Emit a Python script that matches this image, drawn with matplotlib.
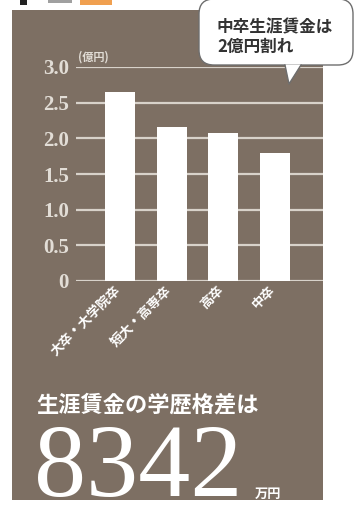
import matplotlib
matplotlib.use("Agg")
import matplotlib.pyplot as plt
from matplotlib.patches import Rectangle, FancyBboxPatch, Polygon
from matplotlib.transforms import blended_transform_factory, offset_copy

categories = ["大卒・大学院卒", "短大・高専卒", "高卒", "中卒"]
values = [2.65, 2.16, 2.07, 1.80]
yticks = [0, 0.5, 1.0, 1.5, 2.0, 2.5, 3.0]
ytick_labels = ["0", "0.5", "1.0", "1.5", "2.0", "2.5", "3.0"]
unit_label = "(億円)"
bubble_lines = ["中卒生涯賃金は", "2億円割れ"]
headline = "生涯賃金の学歴格差は"
big_number = "8342"
big_unit = "万円"

W, H = 357, 507
BG = "#7d6f63"
LIGHT = "#e2ddd6"
CJK = ["Noto Sans CJK JP", "DejaVu Sans"]
SERIF = ["Liberation Serif", "DejaVu Serif"]

fig = plt.figure(figsize=(W / 100, H / 100), dpi=100)
fig.patch.set_facecolor("white")

bg = fig.add_axes([0, 0, 1, 1], zorder=0)
bg.set_xlim(0, W); bg.set_ylim(H, 0); bg.axis("off")
bg.add_patch(Rectangle((12, 10), 311, 490, facecolor=BG, edgecolor="none"))
# header fragments cut off at the top edge
bg.add_patch(Rectangle((20, -4), 7, 9, facecolor="#222222", edgecolor="none"))
bg.add_patch(Rectangle((48, -4), 24, 7, facecolor="#a0a0a0", edgecolor="none"))
bg.add_patch(Rectangle((80, -4), 32, 9, facecolor="#f0a050", edgecolor="none"))

def fx(px): return px / W
def fy(py): return 1 - py / H
left, right, top, bottom = 76, 323, 67, 281
ax = fig.add_axes([fx(left), fy(bottom), fx(right) - fx(left), fy(top) - fy(bottom)], zorder=1)
ax.set_facecolor("none")
x = list(range(len(categories)))
ax.bar(x, values, width=0.58, color="white", zorder=3)
ax.set_xlim(-0.85, 3.93)
ax.set_ylim(0, 3.0)
ax.set_yticks(yticks, ytick_labels)
ax.yaxis.grid(True, color="#d8d2ca", linewidth=1.6, zorder=1)
ax.set_axisbelow(True)
ax.tick_params(axis="y", length=0, pad=5, labelcolor=LIGHT, labelsize=15)
for t in ax.get_yticklabels():
    t.set_family(SERIF); t.set_fontweight("bold")
ax.set_xticks(x, [""] * len(x))
ax.tick_params(axis="x", length=0)
for s in ax.spines.values():
    s.set_visible(False)

trans = offset_copy(blended_transform_factory(ax.transData, ax.transAxes),
                    fig=fig, x=-2, y=-7, units="dots")
for xi, lab in zip(x, categories):
    ax.text(xi, 0, lab, transform=trans, rotation=45, rotation_mode="anchor",
            ha="right", va="center", color="white", fontsize=9.5,
            fontweight="bold", family=CJK)

ov = fig.add_axes([0, 0, 1, 1], zorder=2)
ov.set_xlim(0, W); ov.set_ylim(H, 0); ov.axis("off")
ov.patch.set_alpha(0)

ov.text(78, 57, unit_label, color=LIGHT, fontsize=8, fontweight="bold",
        family=CJK, va="center", ha="left")

# speech bubble
bub = FancyBboxPatch((199, -1), 154, 66, boxstyle="round,pad=0,rounding_size=15",
                     facecolor="white", edgecolor="#6e6e6e", linewidth=1.0, zorder=5)
ov.add_patch(bub)
ov.add_patch(Polygon([(285, 64.5), (301, 64.5), (289, 84)], closed=True,
                     facecolor="white", edgecolor="none", zorder=6))
ov.plot([285, 289, 301], [65, 84, 65], color="#6e6e6e", linewidth=1.0, zorder=7)
ov.text(217, 27, bubble_lines[0], color="#333333", fontsize=12, fontweight="bold",
        family=CJK, va="center", ha="left", zorder=8)
ov.text(217, 47, bubble_lines[1], color="#333333", fontsize=12, fontweight="bold",
        family=CJK, va="center", ha="left", zorder=8)

ov.text(36, 405, headline, color="white", fontsize=16, fontweight="bold",
        family=CJK, va="center", ha="left")
ov.text(34, 496, big_number, color="white", fontsize=75, family=SERIF,
        va="baseline", ha="left")
ov.text(255, 498, big_unit, color="white", fontsize=9.5, fontweight="bold",
        family=CJK, va="baseline", ha="left")

fig.savefig("out.png", dpi=100, facecolor="white")
